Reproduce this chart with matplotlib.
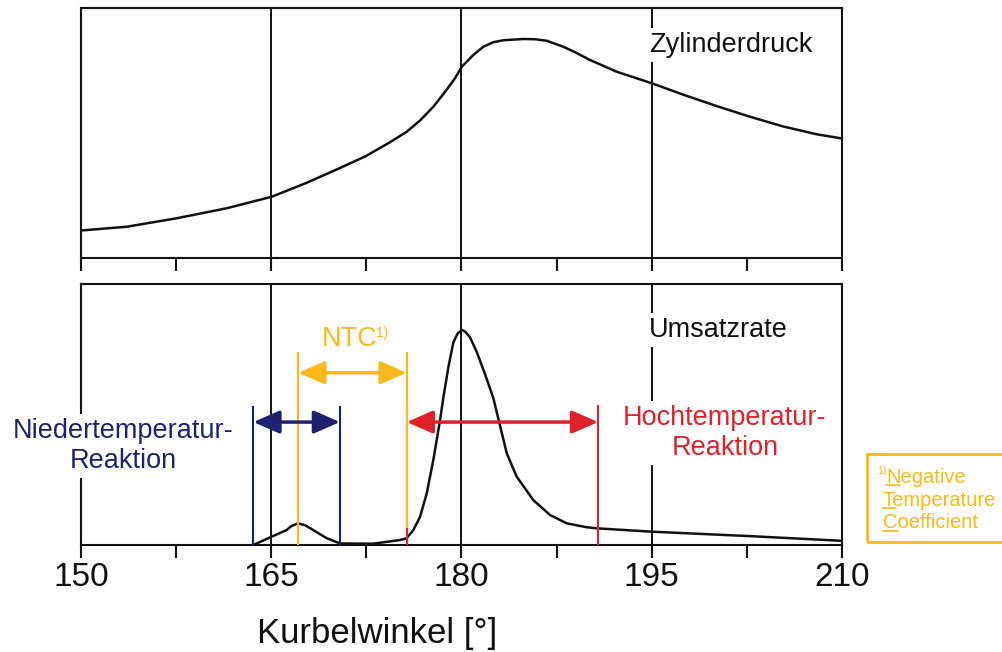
import matplotlib
matplotlib.use('Agg')
import matplotlib.pyplot as plt
from matplotlib.lines import Line2D
from matplotlib.patches import Rectangle

plt.rcParams['font.family'] = ['Liberation Sans', 'DejaVu Sans']

# ---------------- data ----------------
angle_p = [150.0, 153.6, 157.55, 161.49, 165.04, 167.8, 170.42, 172.4, 174.36, 175.68,
           176.73, 177.78, 178.83, 179.5, 180.02, 180.93, 181.72, 182.5, 183.3, 184.87,
           185.8, 186.72, 188.03, 189.0, 190.13, 192.24, 195.0, 197.5, 200.1, 202.75,
           205.37, 208.0, 210.0]
pressure = [11.0, 12.5, 15.9, 19.9, 24.5, 30.1, 36.0, 40.6, 46.3, 50.5,
            55.0, 60.5, 67.3, 72.0, 76.5, 81.2, 84.5, 86.3, 87.1, 87.6,
            87.5, 86.9, 84.5, 82.2, 79.2, 74.5, 69.9, 65.3, 60.8, 56.5,
            52.6, 49.5, 47.8]

angle_r = [163.59, 165.04, 166.2, 166.6, 167.13, 167.7, 168.32, 169.37, 170.42, 173.02,
           175.15, 175.68, 176.2, 176.73, 177.26, 177.78, 178.31, 178.57, 178.96, 179.35,
           179.69, 180.02, 180.28, 180.67, 181.2, 181.85, 182.5, 182.9, 183.57, 184.35,
           185.66, 186.98, 188.3, 189.87, 190.66, 195.0, 202.75, 210.0]
rate = [0.0, 3.2, 5.7, 7.3, 8.3, 7.5, 5.7, 2.6, 0.6, 0.5,
        1.9, 2.6, 5.7, 10.8, 19.8, 32.6, 47.9, 56.5, 68.0, 77.5,
        81.0, 82.4, 81.8, 79.6, 74.0, 65.5, 56.5, 48.5, 35.1, 26.2,
        17.2, 11.5, 8.3, 6.8, 6.4, 5.1, 3.4, 1.6]

xticks_major = [150, 165, 180, 195, 210]
xticks_minor = [157.5, 172.5, 187.5, 202.5]
xtick_labels = ['150', '165', '180', '195', '210']
grid_x = [165, 180, 195]

nt_range = [163.59, 170.42]     # Niedertemperatur-Reaktion
ntc_range = [167.13, 175.68]    # NTC
ht_range = [175.68, 190.77]     # Hochtemperatur-Reaktion

label_top = 'Zylinderdruck'
label_bottom = 'Umsatzrate'
label_nt = 'Niedertemperatur-\nReaktion'
label_ht = 'Hochtemperatur-\nReaktion'
label_ntc = 'NTC'
label_x = 'Kurbelwinkel [°]'
footnote_lines = ['Negative', 'Temperature', 'Coefficient']

NAVY = '#1f216e'
YELLOW = '#fbb91a'
RED = '#e0202a'
INK = '#111111'

# ---------------- figure ----------------
W, H = 1003, 652
fig = plt.figure(figsize=(W / 100, H / 100), dpi=100)


def rect(x0, y0, x1, y1):
    return [x0 / W, 1 - y1 / H, (x1 - x0) / W, (y1 - y0) / H]


ax1 = fig.add_axes(rect(81, 8, 842, 258))
ax2 = fig.add_axes(rect(81, 284, 842, 545))

for ax in (ax1, ax2):
    ax.set_xlim(150, 210)
    ax.set_ylim(0, 100)
    ax.set_xticks(xticks_major)
    ax.set_xticks(xticks_minor, minor=True)
    ax.set_yticks([])
    ax.tick_params(axis='x', which='both', direction='out', length=9, width=1.5, color=INK)
    for s in ax.spines.values():
        s.set_linewidth(1.5)
        s.set_color(INK)
    for gx in grid_x:
        ax.axvline(gx, color=INK, lw=1.4, zorder=1)

ax1.tick_params(axis='x', labelbottom=False)
ax2.set_xticklabels(xtick_labels)
ax2.tick_params(axis='x', labelsize=24, pad=3, labelcolor=INK)

# curves
ax1.plot(angle_p, pressure, color=INK, lw=1.8, zorder=3,
         solid_capstyle='round', solid_joinstyle='round')
ax2.plot(angle_r, rate, color=INK, lw=1.8, zorder=3,
         solid_capstyle='round', solid_joinstyle='round')

white = dict(facecolor='white', edgecolor='none', pad=3)
ax1.text(194.8, 82.3, label_top, fontsize=19.5, ha='left', va='baseline', color=INK,
         bbox=white, zorder=6)
ax2.text(194.8, 79.7, label_bottom, fontsize=19.5, ha='left', va='baseline', color=INK,
         bbox=white, zorder=6)

ax2.text(153.34, 38.0, label_nt, fontsize=19.5, ha='center', va='center', color=NAVY,
         multialignment='center', linespacing=1.2, bbox=white, zorder=6, clip_on=False)
ax2.text(200.78, 42.9, label_ht, fontsize=19.5, ha='center', va='center', color=RED,
         multialignment='center', linespacing=1.2, bbox=white, zorder=6)

ax2.text(168.98, 76.4, label_ntc, fontsize=19.5, ha='left', va='baseline', color=YELLOW, zorder=6)
ax2.text(173.26, 83.9, '1)', fontsize=10, ha='left', va='top', color=YELLOW, zorder=6)

# range markers
ax2.plot([ht_range[0]] * 2, [0, 53.3], color=RED, lw=1.5, zorder=4)
ax2.plot([ht_range[1]] * 2, [0, 53.3], color=RED, lw=1.5, zorder=4)
ax2.plot([nt_range[0]] * 2, [0, 53.0], color=NAVY, lw=1.5, zorder=4)
ax2.plot([nt_range[1]] * 2, [0, 53.0], color=NAVY, lw=1.5, zorder=4)
ax2.plot([ntc_range[0]] * 2, [0, 73.6], color=YELLOW, lw=1.5, zorder=4.5)
ax2.plot([ntc_range[1]] * 2, [6.9, 73.6], color=YELLOW, lw=1.5, zorder=4.5)


def darrow(x0, x1, y, c):
    ax2.annotate('', xy=(x1, y), xytext=(x0, y),
                 arrowprops=dict(arrowstyle='<|-|>,head_length=0.8,head_width=0.35',
                                 mutation_scale=20, lw=2.5, color=c,
                                 shrinkA=0, shrinkB=0), zorder=5)


darrow(nt_range[0], nt_range[1], 47.1, NAVY)
darrow(ntc_range[0], ntc_range[1], 66.0, YELLOW)
darrow(ht_range[0], ht_range[1], 47.1, RED)

# x label
ax2.set_xlabel(label_x, fontsize=25, color=INK)
ax2.xaxis.label.set_va('baseline')
ax2.xaxis.set_label_coords((377.5 - 81) / 761, -(643.3 - 545) / 261)

# footnote box
fig.add_artist(Rectangle((867.3 / W, 1 - 541.7 / H), (1020 - 867.3) / W, (541.7 - 454) / H,
                         transform=fig.transFigure, fill=False, edgecolor=YELLOW, lw=2))
fig.text(877 / W, 1 - 466.0 / H, '1)', fontsize=7.5, color=YELLOW, ha='left', va='top')
foot_x = [886.0, 882.7, 883.3]
foot_base = [482.7, 505.5, 528.3]
foot_texts = []
for s, xp, yp in zip(footnote_lines, foot_x, foot_base):
    t = fig.text(xp / W, 1 - yp / H, s, fontsize=14.5, color=YELLOW, ha='left', va='baseline')
    foot_texts.append((t, s[0], xp, yp))

fig.canvas.draw()
r = fig.canvas.get_renderer()
for t, letter, xp, yp in foot_texts:
    tmp = fig.text(0, 0, letter, fontsize=14.5)
    w = tmp.get_window_extent(r).width
    tmp.remove()
    yy = 1 - (yp + 2.5) / H
    fig.add_artist(Line2D([xp / W, (xp + w) / W], [yy, yy], transform=fig.transFigure,
                          color=YELLOW, lw=1.2))

fig.savefig('out.png', dpi=100)
